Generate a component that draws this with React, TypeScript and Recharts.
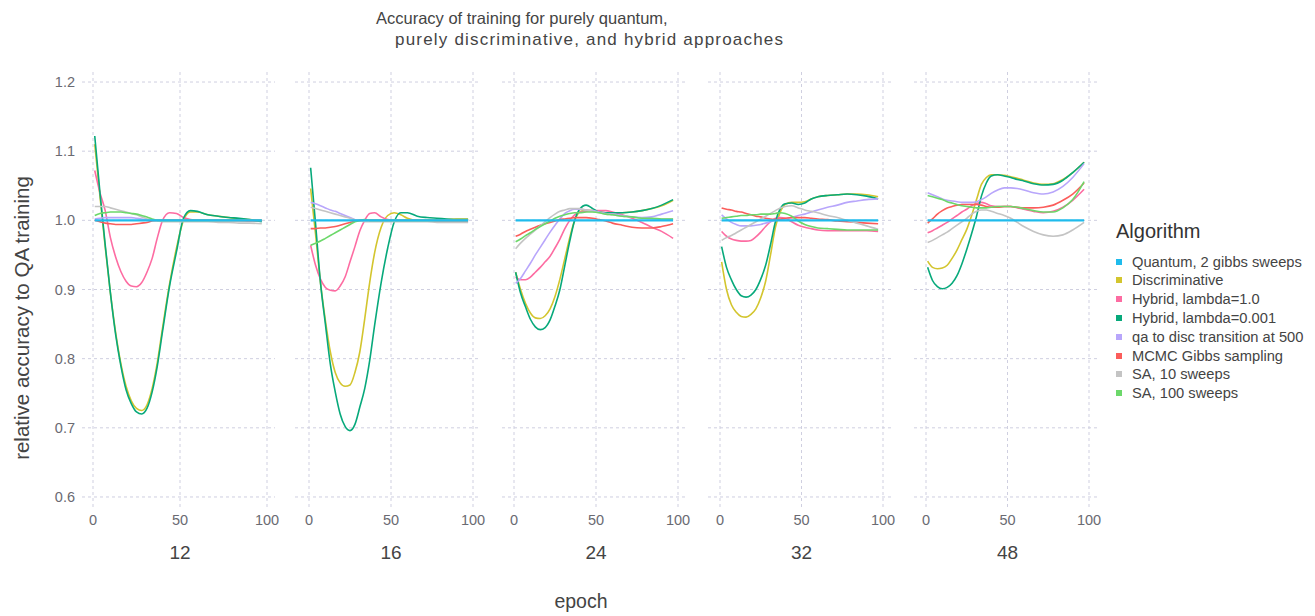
import React from "react";
import { CartesianGrid, Line, LineChart, XAxis, YAxis } from "recharts";

// epochs sampled along every curve
const EPOCHS = [1, 4, 7, 10, 13, 16, 19, 22, 25, 28, 31, 34, 37, 40, 44, 48, 52, 56, 60, 66, 72, 78, 84, 90, 97];

const FACETS = ["12", "16", "24", "32", "48"];
const X_TICKS = [0, 50, 100];
const Y_TICKS = [0.6, 0.7, 0.8, 0.9, 1.0, 1.1, 1.2];

const SERIES_KEYS = ["disc", "hyb1", "hyb001", "qa", "mcmc", "sa10", "sa100", "quantum"];
const SERIES_NAMES = [
  "Quantum, 2 gibbs sweeps",
  "Discriminative",
  "Hybrid, lambda=1.0",
  "Hybrid, lambda=0.001",
  "qa to disc transition at 500",
  "MCMC Gibbs sampling",
  "SA, 10 sweeps",
  "SA, 100 sweeps",
];
const LEGEND_KEYS = ["quantum", "disc", "hyb1", "hyb001", "qa", "mcmc", "sa10", "sa100"];
const COLORS: Record<string, string> = {
  quantum: "#1fbbec",
  disc: "#d3c52e",
  hyb1: "#fd6ca2",
  hyb001: "#07a97b",
  qa: "#b8a6fb",
  mcmc: "#fb5d5b",
  sa10: "#c4c4c4",
  sa100: "#6cd86a",
};

// quantum training is the reference, so it sits at 1.0
const QUANTUM = [1, 1, 1, 1, 1, 1, 1, 1, 1, 1, 1, 1, 1, 1, 1, 1, 1, 1, 1, 1, 1, 1, 1, 1, 1];

const PANEL_12 = {
  disc: [1.11, 1.035, 0.962, 0.895, 0.838, 0.793, 0.76, 0.739, 0.728, 0.725, 0.733, 0.757, 0.795, 0.845, 0.908, 0.96, 1.0, 1.012, 1.012, 1.008, 1.006, 1.004, 1.002, 1.001, 0.999],
  hyb1: [1.072, 1.04, 1.014, 0.975, 0.947, 0.926, 0.912, 0.905, 0.904, 0.91, 0.925, 0.945, 0.975, 1.0, 1.011, 1.01, 1.004, 1.001, 1.0, 1.0, 1.0, 1.0, 1.0, 0.999, 0.999],
  hyb001: [1.122, 1.04, 0.965, 0.895, 0.835, 0.79, 0.755, 0.735, 0.723, 0.72, 0.728, 0.752, 0.79, 0.84, 0.905, 0.955, 1.003, 1.014, 1.013, 1.008, 1.006, 1.004, 1.003, 1.001, 0.998],
  qa: [1.002, 1.003, 1.004, 1.004, 1.004, 1.004, 1.004, 1.004, 1.003, 1.002, 1.001, 1.001, 1.0, 1.0, 1.0, 1.0, 1.0, 1.0, 1.0, 1.0, 1.0, 1.0, 1.0, 1.0, 1.0],
  mcmc: [1.0, 0.998, 0.996, 0.995, 0.994, 0.994, 0.994, 0.994, 0.995, 0.996, 0.997, 0.999, 1.0, 1.0, 1.0, 1.0, 1.0, 1.0, 1.0, 1.0, 1.0, 1.0, 1.0, 1.0, 1.0],
  sa10: [1.02, 1.02, 1.02, 1.018, 1.016, 1.014, 1.012, 1.01, 1.008, 1.005, 1.002, 1.0, 0.999, 0.998, 0.998, 0.998, 0.998, 0.998, 0.998, 0.998, 0.997, 0.997, 0.996, 0.996, 0.995],
  sa100: [1.007, 1.01, 1.011, 1.012, 1.012, 1.012, 1.011, 1.01, 1.009, 1.007, 1.005, 1.002, 1.0, 1.0, 1.0, 1.0, 1.0, 1.0, 1.0, 1.0, 1.0, 1.0, 1.0, 1.0, 1.0],
};

const PANEL_16 = {
  disc: [1.046, 0.98, 0.91, 0.855, 0.81, 0.78, 0.765, 0.76, 0.762, 0.78, 0.81, 0.858, 0.91, 0.953, 0.99, 1.007, 1.011, 1.008, 1.003, 1.0, 1.0, 1.0, 1.001, 1.002, 1.002],
  hyb1: [0.964, 0.935, 0.915, 0.903, 0.899, 0.898, 0.905, 0.918, 0.94, 0.962, 0.985, 1.0, 1.01, 1.011, 1.005, 1.001, 1.0, 1.0, 1.0, 1.0, 0.999, 0.999, 0.998, 0.998, 0.998],
  hyb001: [1.076, 0.995, 0.91, 0.85, 0.792, 0.752, 0.72, 0.702, 0.696, 0.705, 0.73, 0.757, 0.797, 0.848, 0.91, 0.96, 0.998, 1.011, 1.011, 1.006, 1.004, 1.003, 1.002, 1.001, 1.001],
  qa: [1.026, 1.024, 1.021, 1.018, 1.015, 1.013, 1.01, 1.007, 1.004, 1.001, 1.0, 1.0, 1.0, 1.0, 1.0, 1.0, 1.0, 1.0, 1.0, 1.0, 1.0, 1.0, 1.0, 1.0, 1.0],
  mcmc: [0.988, 0.988, 0.989, 0.989, 0.99, 0.991, 0.993, 0.995, 0.997, 0.999, 1.0, 1.0, 1.0, 1.0, 1.0, 1.0, 1.0, 1.0, 1.0, 1.0, 1.0, 1.0, 1.0, 1.0, 1.0],
  sa10: [1.019, 1.017, 1.015, 1.013, 1.011, 1.009, 1.007, 1.005, 1.003, 1.001, 0.999, 0.998, 0.998, 0.998, 0.998, 0.998, 0.998, 0.998, 0.998, 0.998, 0.998, 0.997, 0.997, 0.997, 0.997],
  sa100: [0.964, 0.967, 0.97, 0.974, 0.978, 0.982, 0.986, 0.99, 0.994, 0.998, 1.0, 1.001, 1.0, 1.0, 1.0, 1.0, 1.0, 1.0, 1.0, 1.0, 1.0, 1.0, 1.0, 1.0, 1.0],
};

const PANEL_24 = {
  disc: [0.925, 0.9, 0.88, 0.866, 0.859, 0.858, 0.862, 0.872, 0.89, 0.915, 0.945, 0.975, 1.0, 1.012, 1.015, 1.014, 1.012, 1.011, 1.011, 1.011, 1.012, 1.014, 1.017, 1.021, 1.029],
  hyb1: [0.918, 0.914, 0.914, 0.918, 0.925, 0.932, 0.94, 0.948, 0.96, 0.973, 0.988, 1.0, 1.008, 1.012, 1.013, 1.014, 1.014, 1.014, 1.012, 1.008, 1.003, 0.997, 0.99, 0.984, 0.974],
  hyb001: [0.925, 0.895, 0.875, 0.857, 0.846, 0.842, 0.845, 0.856, 0.876, 0.9, 0.935, 0.97, 1.0, 1.016, 1.022, 1.017, 1.012, 1.011, 1.011, 1.011, 1.012, 1.014, 1.017, 1.022, 1.03],
  qa: [0.909, 0.916, 0.927, 0.938, 0.95, 0.961, 0.972, 0.983, 0.993, 1.002, 1.01, 1.014, 1.016, 1.016, 1.015, 1.014, 1.012, 1.01, 1.009, 1.007, 1.005, 1.004, 1.005, 1.009, 1.014],
  mcmc: [0.977, 0.98, 0.984, 0.987, 0.99, 0.993, 0.995, 0.997, 0.999, 1.001, 1.002, 1.003, 1.004, 1.004, 1.004, 1.003, 1.001, 0.999, 0.996, 0.993, 0.99, 0.989, 0.989, 0.991, 0.995],
  sa10: [0.959, 0.967, 0.974, 0.98, 0.986, 0.992, 0.998, 1.004, 1.009, 1.013, 1.015, 1.017, 1.017, 1.017, 1.015, 1.013, 1.011, 1.009, 1.008, 1.006, 1.005, 1.003, 1.002, 1.002, 1.002],
  sa100: [0.969, 0.973, 0.978, 0.982, 0.987, 0.991, 0.995, 0.999, 1.003, 1.006, 1.008, 1.01, 1.011, 1.011, 1.012, 1.012, 1.011, 1.009, 1.008, 1.006, 1.005, 1.003, 1.003, 1.002, 1.002],
};

const PANEL_32 = {
  disc: [0.94, 0.9, 0.878, 0.867, 0.861, 0.86, 0.864, 0.872, 0.888, 0.912, 0.95, 0.99, 1.012, 1.023, 1.026, 1.026, 1.027, 1.031, 1.034, 1.036, 1.037, 1.038, 1.038, 1.037, 1.034],
  hyb1: [0.984, 0.977, 0.973, 0.971, 0.97, 0.97, 0.971, 0.976, 0.983, 0.991, 0.998, 1.003, 1.004, 1.003, 0.998, 0.993, 0.99, 0.988, 0.986, 0.985, 0.985, 0.985, 0.985, 0.985, 0.984],
  hyb001: [0.962, 0.932, 0.914, 0.9, 0.891, 0.889, 0.892, 0.9, 0.915, 0.935, 0.965, 0.998, 1.017, 1.024, 1.025, 1.023, 1.025, 1.031, 1.034, 1.036, 1.037, 1.038, 1.037, 1.035, 1.031],
  qa: [1.008, 1.002, 0.997, 0.994, 0.992, 0.992, 0.992, 0.993, 0.994, 0.996, 0.998, 1.0, 1.001, 1.002, 1.004, 1.007, 1.009, 1.012, 1.015, 1.019, 1.022, 1.026, 1.028, 1.03, 1.031],
  mcmc: [1.018, 1.016, 1.015, 1.013, 1.012, 1.01, 1.008, 1.006, 1.005, 1.003, 1.002, 1.001, 1.002, 1.003, 1.004, 1.004, 1.004, 1.003, 1.002, 1.001, 0.999, 0.998, 0.997, 0.996, 0.995],
  sa10: [0.971, 0.975, 0.978, 0.982, 0.986, 0.99, 0.994, 0.998, 1.002, 1.006, 1.01, 1.014, 1.018, 1.02, 1.021, 1.018, 1.015, 1.013, 1.011, 1.007, 1.004, 1.0, 0.996, 0.992, 0.987],
  sa100: [1.003, 1.004, 1.005, 1.006, 1.007, 1.007, 1.008, 1.008, 1.009, 1.009, 1.009, 1.01, 1.011, 1.01, 1.006, 0.999, 0.994, 0.991, 0.989, 0.988, 0.987, 0.986, 0.986, 0.986, 0.986],
};

const PANEL_48 = {
  disc: [0.941, 0.932, 0.93, 0.931, 0.935, 0.945, 0.957, 0.972, 0.987, 1.007, 1.03, 1.052, 1.062, 1.066, 1.066, 1.065, 1.063, 1.061, 1.058, 1.054, 1.052, 1.053, 1.059, 1.069, 1.084],
  hyb1: [0.982, 0.985, 0.989, 0.993, 0.997, 1.002, 1.007, 1.012, 1.016, 1.021, 1.024, 1.026, 1.024, 1.021, 1.02, 1.02, 1.02, 1.018, 1.016, 1.013, 1.011, 1.013, 1.019, 1.029, 1.045],
  hyb001: [0.932, 0.913, 0.904, 0.901, 0.903, 0.909, 0.92, 0.937, 0.958, 0.981, 1.006, 1.035, 1.054, 1.064, 1.066, 1.064, 1.062, 1.059, 1.057, 1.053, 1.051, 1.052, 1.058, 1.069, 1.084],
  qa: [1.04, 1.037, 1.034, 1.031, 1.029, 1.028, 1.027, 1.026, 1.026, 1.026, 1.027, 1.03, 1.034, 1.039, 1.044, 1.047, 1.047, 1.046, 1.044, 1.04, 1.038, 1.041, 1.049, 1.062, 1.082],
  mcmc: [0.996, 1.002, 1.009, 1.014, 1.018, 1.02, 1.022, 1.023, 1.023, 1.023, 1.023, 1.022, 1.02, 1.019, 1.019, 1.02, 1.02, 1.019, 1.018, 1.018, 1.019, 1.022, 1.029, 1.038, 1.054],
  sa10: [0.968, 0.971, 0.975, 0.979, 0.983, 0.988, 0.993, 0.998, 1.003, 1.009, 1.013, 1.015, 1.015, 1.013, 1.01, 1.007, 1.003, 0.997, 0.991, 0.984, 0.979, 0.977, 0.979, 0.986, 0.997],
  sa100: [1.036, 1.034, 1.032, 1.03, 1.027, 1.025, 1.023, 1.021, 1.02, 1.019, 1.018, 1.018, 1.018, 1.019, 1.02, 1.02, 1.02, 1.019, 1.017, 1.014, 1.012, 1.012, 1.018, 1.03, 1.056],
};

const PANELS = [PANEL_12, PANEL_16, PANEL_24, PANEL_32, PANEL_48];

// pixel boxes of each facet: plot left/right and where epoch 0 and 100 fall
const BOXES = [
  { left: 82, right: 275, x0: 93, x100: 267 },
  { left: 295, right: 480, x0: 309, x100: 473 },
  { left: 502, right: 686, x0: 514, x100: 678 },
  { left: 708, right: 891, x0: 720, x100: 883 },
  { left: 914, right: 1097, x0: 926, x100: 1089 },
];

const PLOT_TOP = 72;
const PLOT_BOTTOM = 507;
const SPARE_RIGHT = 16; // room so the "100" tick label is not clipped
const Y_DOMAIN: [number, number] = [0.5855, 1.2145];
const FONT = '"Liberation Sans", Arial, Helvetica, sans-serif';
const GRID = "#cfcfe0";
const TICK = { fontSize: 14.5, fill: "#6a6a72", fontFamily: FONT };

function Facet({ idx }: { idx: number }) {
  const box = BOXES[idx];
  const p = PANELS[idx] as Record<string, number[]>;
  const scale = (box.x100 - box.x0) / 100;
  const domain: [number, number] = [(box.left - box.x0) / scale, 100 + (box.right - box.x100) / scale];
  const data = EPOCHS.map((e, i) => {
    const row: Record<string, number> = { epoch: e, quantum: QUANTUM[i] };
    Object.keys(p).forEach((k) => (row[k] = p[k][i]));
    return row;
  });
  const first = idx === 0;
  const chartLeft = first ? 0 : box.left;
  const width = box.right - chartLeft + SPARE_RIGHT;

  return (
    <div style={{ position: "absolute", left: chartLeft, top: 0 }}>
      <LineChart
        width={width}
        height={PLOT_BOTTOM + 30}
        data={data}
        margin={{ top: PLOT_TOP, right: SPARE_RIGHT, bottom: 0, left: 0 }}
        style={{ overflow: "visible" }}
      >
        <CartesianGrid
          stroke={GRID}
          strokeDasharray="3 3"
          horizontalValues={Y_TICKS}
          verticalValues={X_TICKS}
        />
        <XAxis
          type="number"
          dataKey="epoch"
          domain={domain}
          ticks={X_TICKS}
          allowDataOverflow
          axisLine={false}
          tickLine={false}
          tickSize={6}
          tickMargin={2}
          height={30}
          tick={TICK}
          interval={0}
        />
        <YAxis
          type="number"
          domain={Y_DOMAIN}
          ticks={Y_TICKS}
          allowDataOverflow
          hide={!first}
          width={first ? 82 : 0}
          axisLine={false}
          tickLine={false}
          tickSize={6}
          tickMargin={1}
          tick={TICK}
          interval={0}
          tickFormatter={(v: number) => v.toFixed(1)}
        />
        {SERIES_KEYS.map((k) => (
          <Line
            key={k}
            type="monotone"
            dataKey={k}
            stroke={COLORS[k]}
            strokeWidth={k === "quantum" ? 2.2 : 1.6}
            dot={false}
            isAnimationActive={false}
          />
        ))}
      </LineChart>
    </div>
  );
}

export default function App() {
  const text = (style: React.CSSProperties) => ({
    position: "absolute" as const,
    fontFamily: FONT,
    whiteSpace: "pre" as const,
    color: "#444",
    ...style,
  });
  return (
    <div style={{ position: "absolute", left: 0, top: 0, width: 1315, height: 616, background: "#fff", overflow: "hidden" }}>
      {FACETS.map((f, i) => (
        <Facet key={f} idx={i} />
      ))}

      <div style={text({ left: 376, top: 8, fontSize: 16.5, lineHeight: "20px" })}>Accuracy of training for purely quantum,</div>
      <div style={text({ left: 395, top: 30, fontSize: 17, letterSpacing: 1.2, lineHeight: "20px" })}>
        purely discriminative, and hybrid approaches
      </div>

      {FACETS.map((f, i) => {
        const b = BOXES[i];
        const cx = (b.x0 + b.x100) / 2;
        return (
          <div key={f} style={text({ left: cx - 40, width: 80, top: 542, textAlign: "center", fontSize: 19, lineHeight: "22px" })}>
            {f}
          </div>
        );
      })}

      <div style={text({ left: 481, width: 200, top: 589, textAlign: "center", fontSize: 19.5, lineHeight: "24px" })}>epoch</div>

      <div
        style={text({
          left: 22 - 200,
          width: 400,
          top: 318 - 12,
          textAlign: "center",
          fontSize: 20.5,
          lineHeight: "24px",
          transform: "rotate(-90deg)",
        })}
      >
        relative accuracy to QA training
      </div>

      <div style={text({ left: 1116, top: 219, fontSize: 20, lineHeight: "24px", color: "#333" })}>Algorithm</div>
      {LEGEND_KEYS.map((k, i) => (
        <div key={k} style={{ position: "absolute", left: 1116, top: 252 + i * 18.8, height: 19, display: "flex", alignItems: "center" }}>
          <span style={{ display: "inline-block", width: 6, height: 6, background: COLORS[k], marginRight: 10 }} />
          <span style={{ fontFamily: FONT, fontSize: 14.7, color: "#444", whiteSpace: "pre" }}>{SERIES_NAMES[i]}</span>
        </div>
      ))}
    </div>
  );
}
